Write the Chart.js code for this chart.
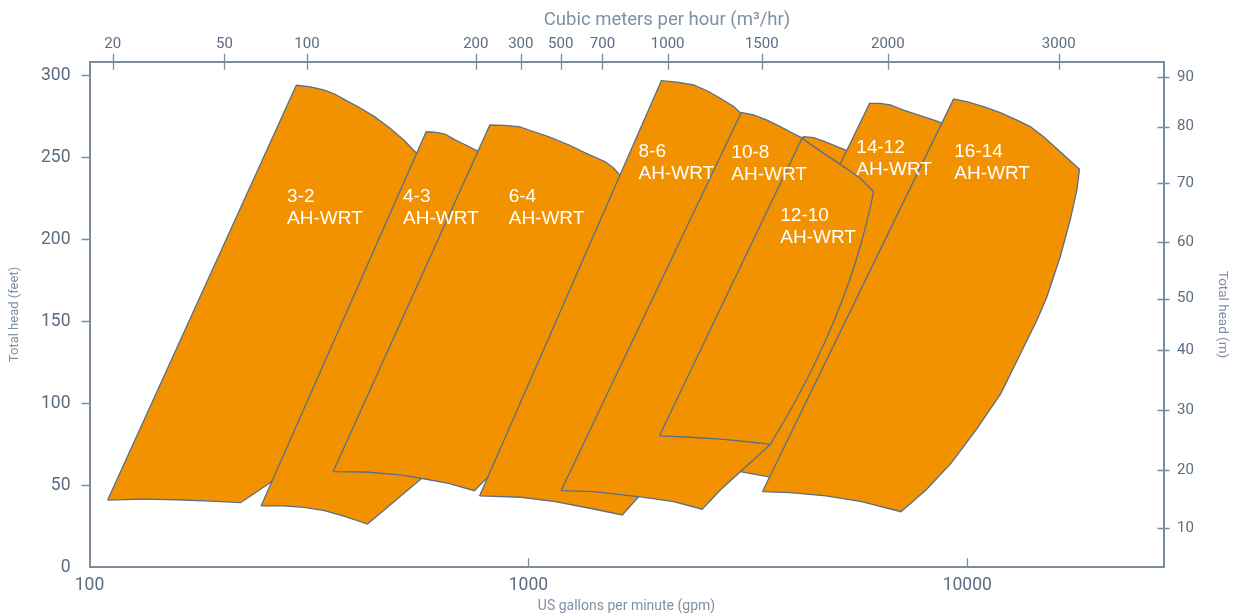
<!DOCTYPE html>
<html>
<head>
<meta charset="utf-8">
<script src="https://cdn.jsdelivr.net/npm/chart.js@4.4.1/dist/chart.umd.min.js"></script>
<style>
  html, body { margin: 0; padding: 0; background: #fff; }
</style>
</head>
<body>
<canvas id="pumpChart" width="1236" height="616"></canvas>
<script>
// Pump selection envelopes: flow in US gpm, head in feet.
// Each outline runs bottom-left -> top-left -> along the top -> down the right side -> back along the bottom.
const pump32Gpm = [110, 296, 319, 343, 362, 383, 411, 446, 484, 520, 557, 604, 302, 257, 221, 189, 158, 132, 110];
const pump32Ft = [41.0, 293.9, 293.0, 291.0, 288.6, 284.9, 280.5, 274.8, 267.7, 260.5, 252.4, 247.1, 66.6, 51.2, 39.4, 40.4, 41.2, 41.6, 41.0];

const pump43Gpm = [246, 585, 612, 646, 682, 720, 757, 819, 647, 569, 430, 383, 343, 308, 276, 246];
const pump43Ft = [37.4, 265.6, 265.4, 264.2, 260.5, 257.5, 254.5, 250.2, 66.6, 53.8, 26.4, 30.9, 34.5, 36.6, 37.4, 37.4];

const pump64Gpm = [359, 817, 878, 952, 1015, 1111, 1238, 1355, 1497, 1565, 1623, 1753, 1183, 886, 810, 753, 658, 569, 511, 426, 359];
const pump64Ft = [58.3, 269.7, 269.5, 268.7, 266.2, 262.6, 257.5, 252.4, 247.3, 243.3, 238.6, 230.1, 102.0, 59.3, 55.2, 46.7, 51.2, 54.3, 56.3, 58.1, 58.3];

const pump86Gpm = [774, 2009, 2181, 2380, 2553, 2738, 2935, 3040, 3238, 2220, 1896, 1782, 1637, 1380, 1152, 961, 774];
const pump86Ft = [43.5, 296.7, 295.9, 294.1, 290.6, 286.0, 280.9, 277.2, 271.5, 132.5, 53.2, 43.0, 31.9, 36.0, 40.0, 42.7, 43.5];

const pump108Gpm = [1187, 3056, 3260, 3497, 3750, 3987, 4202, 4143, 3849, 3559, 3289, 3040, 2738, 2488, 2143, 1799, 1411, 1187];
const pump108Ft = [46.7, 277.4, 275.8, 272.7, 268.7, 265.0, 261.8, 211.8, 114.2, 75.0, 66.5, 58.3, 47.1, 35.4, 40.0, 43.0, 46.1, 46.7];

// rounded upper curve of the 12-10 that sits behind the 14-12
const pump1210BackGpm = [4202, 4237, 4466, 4707, 5049, 5365, 5765, 4165, 2884, 4202];
const pump1210BackFt = [262.0, 262.6, 262.0, 259.9, 256.5, 253.8, 250.2, 144.7, 89.8, 262.0];

const pump1412Gpm = [2352, 5989, 6336, 6678, 7159, 7814, 8531, 9051, 7037, 4625, 4165, 3532, 3040, 2667, 2352];
const pump1412Ft = [58.1, 282.9, 282.9, 281.9, 278.8, 275.4, 272.1, 269.1, 163.0, 59.3, 52.0, 55.2, 58.3, 58.7, 58.1];

const pump1210Gpm = [1988, 4202, 4707, 5227, 5705, 6117, 6031, 5918, 5759, 5583, 5392, 5192, 4981, 4760, 4534, 4305, 4072, 3896, 3720, 3559, 3204, 2786, 2339, 1988];
const pump1210Ft = [80.1, 261.6, 252.4, 244.3, 237.2, 229.0, 220.9, 211.8, 199.6, 187.4, 175.2, 163.0, 150.8, 138.6, 126.4, 114.2, 102.0, 92.9, 83.7, 75.0, 76.4, 78.0, 79.3, 80.1];

const pump1614Gpm = [3414, 9307, 9984, 10891, 11891, 12979, 13916, 14926, 16286, 18018, 17780, 17164, 16286, 15193, 14420, 13345, 11934, 10466, 9181, 8053, 7063, 5747, 4765, 3952, 3414];
const pump1614Ft = [46.1, 285.5, 283.9, 280.9, 277.2, 272.7, 268.7, 262.6, 253.4, 242.7, 230.1, 211.8, 189.4, 165.0, 150.8, 132.5, 106.1, 83.7, 63.4, 47.1, 33.9, 40.0, 43.5, 45.5, 46.1];

// model labels and where they sit (gpm, ft of the first line's baseline)
const labelNames = ["3-2", "4-3", "6-4", "8-6", "10-8", "12-10", "14-12", "16-14"];
const labelGpm = [282, 518, 902, 1783, 2900, 3750, 5588, 9342];
const labelFt = [222.9, 222.9, 222.9, 250.4, 249.4, 211.3, 252.4, 250.0];
const labelSuffix = "AH-WRT";

// axes
const gpmTicks = [100, 1000, 10000];
const feetTicks = [0, 50, 100, 150, 200, 250, 300];
const m3hTickLabels = ["20", "50", "100", "200", "300", "500", "700", "1000", "1500", "2000", "3000"];
const m3hTickGpm = [113, 203, 313, 759, 961, 1185, 1475, 2077, 3402, 6593, 16157];
const metreTickLabels = ["90", "80", "70", "60", "50", "40", "30", "20", "10"];
const metreTickFt = [298.8, 268.7, 234.1, 198.5, 163.8, 132.5, 95.9, 59.3, 23.8];

const ORANGE = "#f39200";
const OUTLINE = "#5a6f86";
const AXIS = "#7b8c9d";
const TICK_TEXT = "#5b6d80";
const TITLE_TEXT = "#7f90a2";

// drawing order: first entry ends up at the back
const shapes = [
	[pump32Gpm, pump32Ft],
	[pump43Gpm, pump43Ft],
	[pump64Gpm, pump64Ft],
	[pump86Gpm, pump86Ft],
	[pump1210BackGpm, pump1210BackFt],
	[pump1412Gpm, pump1412Ft],
	[pump108Gpm, pump108Ft],
	[pump1210Gpm, pump1210Ft],
	[pump1614Gpm, pump1614Ft],
];

const datasets = shapes.map(([gpm, ft], i) => ({
	data: gpm.map((g, k) => ({ x: g, y: ft[k] })),
	showLine: true,
	fill: "shape",
	backgroundColor: ORANGE,
	borderColor: OUTLINE,
	borderWidth: 1.3,
	pointRadius: 0,
	tension: 0,
	order: shapes.length - i,
}));

// small tick marks, drawn by hand since they cross / point into the plot
const tickMarks = {
	id: "tickMarks",
	afterDraw(chart) {
		const { ctx } = chart;
		const { x, x2, y, y2 } = chart.scales;
		ctx.save();
		ctx.strokeStyle = AXIS;
		ctx.lineWidth = 1.3;
		ctx.beginPath();
		x.ticks.forEach((t) => {
			const px = Math.round(x.getPixelForValue(t.value)) + 0.5;
			if (px > x.left + 3) {
				ctx.moveTo(px, x.top);
				ctx.lineTo(px, x.top - 9);
			}
		});
		x2.ticks.forEach((t) => {
			const px = Math.round(x2.getPixelForValue(t.value)) + 0.5;
			ctx.moveTo(px, x2.bottom - 8);
			ctx.lineTo(px, x2.bottom + 8);
		});
		y.ticks.forEach((t) => {
			const py = Math.round(y.getPixelForValue(t.value)) + 0.5;
			if (py < y.bottom - 3) {
				ctx.moveTo(y.right - 8, py);
				ctx.lineTo(y.right, py);
			}
		});
		y2.ticks.forEach((t) => {
			const py = Math.round(y2.getPixelForValue(t.value)) + 0.5;
			ctx.moveTo(y2.left - 6, py);
			ctx.lineTo(y2.left + 6, py);
		});
		ctx.stroke();
		ctx.restore();
	},
};

// top title sits right of centre in the original
const axisTitles = {
	id: "axisTitles",
	afterDraw(chart) {
		const { ctx, chartArea } = chart;
		ctx.save();
		ctx.fillStyle = TITLE_TEXT;
		ctx.textAlign = "center";
		ctx.textBaseline = "alphabetic";
		ctx.font = "18.5px Roboto";
		ctx.fillText("Cubic meters per hour (m³/hr)", 667, 25);
		ctx.font = "14px Roboto";
		ctx.fillText("US gallons per minute (gpm)", (chartArea.left + chartArea.right) / 2, 610);
		ctx.restore();
	},
};

const modelLabels = {
	id: "modelLabels",
	afterDatasetsDraw(chart) {
		const { ctx } = chart;
		const { x, y } = chart.scales;
		ctx.save();
		ctx.fillStyle = "#ffffff";
		ctx.font = "19px 'Liberation Sans', Arial, sans-serif";
		ctx.textAlign = "left";
		ctx.textBaseline = "alphabetic";
		labelNames.forEach((name, i) => {
			const px = x.getPixelForValue(labelGpm[i]);
			const py = y.getPixelForValue(labelFt[i]);
			ctx.fillText(name, px, py);
			ctx.fillText(labelSuffix, px, py + 22);
		});
		ctx.restore();
	},
};

const config = {
	type: "scatter",
	data: { datasets },
	options: {
		responsive: false,
		animation: false,
		layout: { padding: 0 },
		plugins: { legend: { display: false }, tooltip: { enabled: false } },
		scales: {
			x: {
				type: "logarithmic",
				position: "bottom",
				min: 100,
				max: 28000,
				afterBuildTicks: (s) => { s.ticks = gpmTicks.map((v) => ({ value: v })); },
				afterFit: (s) => { s.height = 48.7; },
				grid: { display: false, drawTicks: false },
				border: { color: AXIS, width: 2 },
				ticks: {
					autoSkip: false, maxRotation: 0, padding: 8,
					color: TICK_TEXT, font: { family: "Roboto", size: 17.5 },
					callback: (v) => String(v),
				},
			},
			x2: {
				type: "logarithmic",
				position: "top",
				min: 100,
				max: 28000,
				afterBuildTicks: (s) => { s.ticks = m3hTickGpm.map((v) => ({ value: v })); },
				afterFit: (s) => { s.height = 61.7; },
				grid: { display: false, drawTicks: false },
				border: { color: AXIS, width: 2 },
				ticks: {
					autoSkip: false, maxRotation: 0, padding: 8.5,
					color: TICK_TEXT, font: { family: "Roboto", size: 15 },
					callback: (v, i) => m3hTickLabels[i],
				},
			},
			y: {
				type: "linear",
				position: "left",
				min: 0,
				max: 308.3,
				afterBuildTicks: (s) => { s.ticks = feetTicks.map((v) => ({ value: v })); },
				afterFit: (s) => { s.width = 89.5; },
				grid: { display: false, drawTicks: false },
				border: { color: AXIS, width: 2 },
				ticks: { padding: 19, color: TICK_TEXT, font: { family: "Roboto", size: 17.5 } },
				title: {
					display: true, text: "Total head (feet)", color: TITLE_TEXT,
					font: { family: "Roboto", size: 13 }, padding: { top: 7, bottom: 0 },
				},
			},
			y2: {
				type: "linear",
				position: "right",
				min: 0,
				max: 308.3,
				afterBuildTicks: (s) => { s.ticks = metreTickFt.map((v) => ({ value: v })); },
				afterFit: (s) => { s.width = 72.5; },
				grid: { display: false, drawTicks: false },
				border: { color: AXIS, width: 2 },
				ticks: {
					padding: 13.5, color: TICK_TEXT, font: { family: "Roboto", size: 15 },
					callback: (v, i) => metreTickLabels[i],
				},
				title: {
					display: true, text: "Total head (m)", color: TITLE_TEXT,
					font: { family: "Roboto", size: 13.5 }, padding: { top: 6, bottom: 0 },
				},
			},
		},
	},
	plugins: [modelLabels, tickMarks, axisTitles],
};

const ctx = document.getElementById("pumpChart").getContext("2d");
new Chart(ctx, config);
</script>
</body>
</html>
